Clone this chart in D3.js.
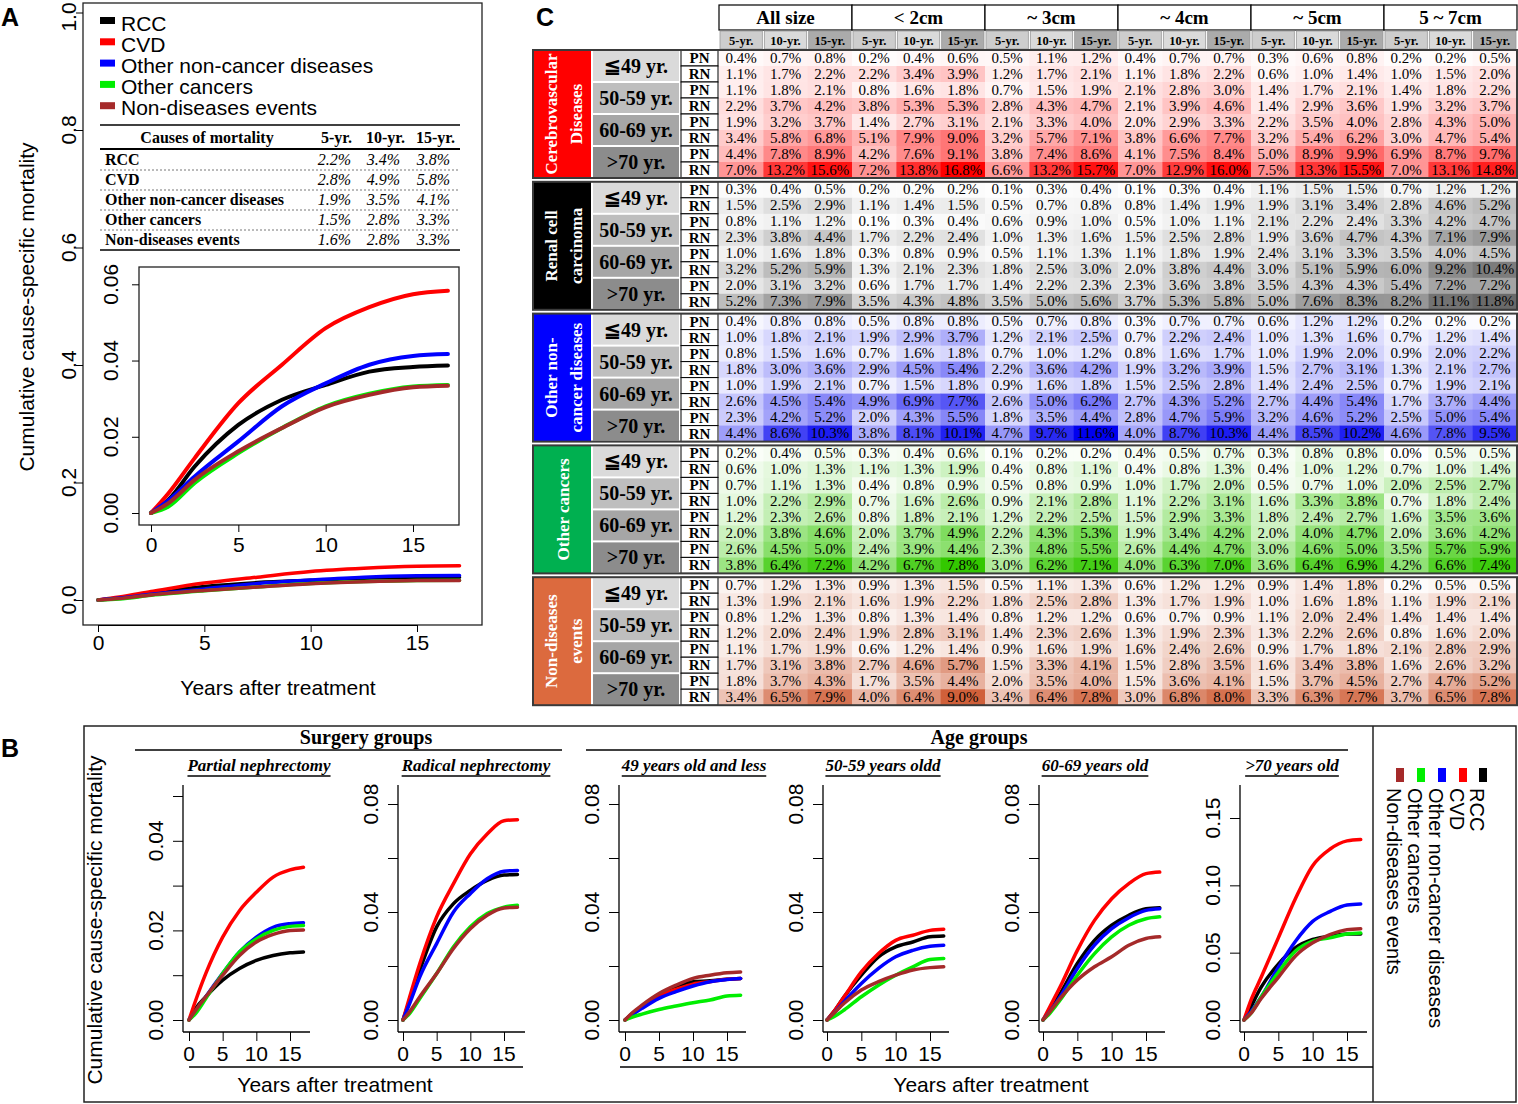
<!DOCTYPE html>
<html>
<head>
<meta charset="utf-8">
<script src="https://cdn.jsdelivr.net/npm/d3@7"></script>
<style>body{margin:0;background:#fff}</style>
</head>
<body>
<svg id="fig" width="1518" height="1104"></svg>
<script>
// ---------- data ----------
var causes = ["RCC", "CVD", "Other non-cancer diseases", "Other cancers", "Non-diseases events"];
var years = [0, 1, 2.5, 5, 7.5, 10, 12.5, 15, 17];
var xTicks = [0, 5, 10, 15];

// Panel A, all patients
var aRCC = [0, 0.0035, 0.0122, 0.0231, 0.0297, 0.0336, 0.0371, 0.0383, 0.0387];
var aCVD = [0, 0.0052, 0.0144, 0.0288, 0.0389, 0.0485, 0.054, 0.0574, 0.0583];
var aONC = [0, 0.0033, 0.0096, 0.0188, 0.028, 0.034, 0.0389, 0.0412, 0.0417];
var aOC  = [0, 0.0017, 0.0079, 0.0157, 0.0223, 0.028, 0.0313, 0.0332, 0.0336];
var aND  = [0, 0.0026, 0.0087, 0.0162, 0.0223, 0.0278, 0.031, 0.033, 0.0334];
var aMainTicks = [0, 0.2, 0.4, 0.6, 0.8, 1.0];
var aInsetTicks = [0, 0.02, 0.04, 0.06];

// Panel A table
var tableHead = ["Causes of mortality", "5-yr.", "10-yr.", "15-yr."];
var table5 = [2.2, 2.8, 1.9, 1.5, 1.6];
var table10 = [3.4, 4.9, 3.5, 2.8, 2.8];
var table15 = [3.8, 5.8, 4.1, 3.3, 3.3];

// Panel B, one array per sub-plot, rows in the order of causes
var bTitles = ["Partial nephrectomy", "Radical nephrectomy", "49 years old and less", "50-59 years oldd", "60-69 years old", ">70 years old"];
var bPartial = [
  [0, 0.0026, 0.0052, 0.0089, 0.0115, 0.0133, 0.0144, 0.015, 0.0152],
  [0, 0.0044, 0.0104, 0.0185, 0.0244, 0.0285, 0.0319, 0.0335, 0.0341],
  [0, 0.0019, 0.0052, 0.0104, 0.0152, 0.0185, 0.0207, 0.0215, 0.0217],
  [0, 0.0015, 0.0048, 0.0104, 0.0152, 0.0181, 0.02, 0.0209, 0.0211],
  [0, 0.0022, 0.0052, 0.01, 0.0144, 0.0174, 0.0191, 0.02, 0.0201]
];
var bRadical = [
  [0, 0.0074, 0.0185, 0.0345, 0.0431, 0.048, 0.0517, 0.0537, 0.0539],
  [0, 0.0086, 0.0209, 0.0382, 0.0505, 0.0615, 0.0689, 0.0738, 0.0742],
  [0, 0.0062, 0.016, 0.0283, 0.04, 0.0468, 0.0523, 0.0551, 0.0554],
  [0, 0.0025, 0.008, 0.0172, 0.0271, 0.0345, 0.0394, 0.0418, 0.0425],
  [0, 0.0031, 0.0086, 0.0172, 0.0265, 0.0338, 0.0388, 0.0415, 0.0418]
];
var bAge49 = [
  [0, 0.0022, 0.0049, 0.0092, 0.0123, 0.0142, 0.0145, 0.0151, 0.0154],
  [0, 0.0022, 0.0049, 0.009, 0.0113, 0.0133, 0.0142, 0.0151, 0.0154],
  [0, 0.0018, 0.0043, 0.008, 0.0105, 0.0126, 0.0142, 0.015, 0.0154],
  [0, 0.001, 0.0022, 0.0039, 0.0052, 0.0064, 0.0074, 0.0089, 0.0092],
  [0, 0.0025, 0.0055, 0.0098, 0.0129, 0.0154, 0.0166, 0.0175, 0.0178]
];
var bAge50 = [
  [0, 0.0031, 0.0086, 0.0166, 0.0234, 0.0271, 0.0289, 0.0308, 0.0311],
  [0, 0.0031, 0.0086, 0.0178, 0.0246, 0.0295, 0.0314, 0.0332, 0.0336],
  [0, 0.0025, 0.0068, 0.0135, 0.0191, 0.0234, 0.0258, 0.0273, 0.0277],
  [0, 0.0012, 0.0037, 0.0086, 0.0129, 0.0166, 0.0197, 0.0224, 0.0228],
  [0, 0.0025, 0.0062, 0.0111, 0.0142, 0.0166, 0.0185, 0.0194, 0.0197]
];
var bAge60 = [
  [0, 0.0037, 0.0098, 0.0209, 0.0295, 0.0351, 0.0388, 0.0412, 0.0416],
  [0, 0.0049, 0.0123, 0.0258, 0.0369, 0.0449, 0.0505, 0.0542, 0.0548],
  [0, 0.0031, 0.0086, 0.0191, 0.0277, 0.0338, 0.0379, 0.0406, 0.0412],
  [0, 0.0025, 0.0074, 0.0166, 0.0246, 0.0308, 0.0351, 0.0375, 0.0382],
  [0, 0.0031, 0.008, 0.0148, 0.0197, 0.0234, 0.0277, 0.0302, 0.0308]
];
var bAge70 = [
  [0, 0.0098, 0.0244, 0.0415, 0.0537, 0.0598, 0.0622, 0.0639, 0.0639],
  [0, 0.0146, 0.0317, 0.061, 0.0902, 0.1146, 0.1268, 0.133, 0.134],
  [0, 0.0061, 0.0171, 0.039, 0.0585, 0.0732, 0.0805, 0.0854, 0.0861],
  [0, 0.0049, 0.0171, 0.0354, 0.0512, 0.0585, 0.061, 0.0639, 0.0646],
  [0, 0.0049, 0.0159, 0.0317, 0.0476, 0.0573, 0.0634, 0.0671, 0.0678]
];
var bYMax = [0.05, 0.08, 0.08, 0.08, 0.08, 0.15];
var bYStep = [0.01, 0.02, 0.02, 0.02, 0.02, 0.05];

// Panel C
var cSizes = ["All size", "< 2cm", "~ 3cm", "~ 4cm", "~ 5cm", "5 ~ 7cm"];
var cHorizons = ["5-yr.", "10-yr.", "15-yr."];
var cAges = ["\u226649 yr.", "50-59 yr.", "60-69 yr.", ">70 yr."];
var cSurgery = ["PN", "RN"];
var cCauseLabels = [["Cerebrovascular", "Diseases"], ["Renal cell", "carcinoma"], ["Other non-", "cancer diseases"], ["Other cancers"], ["Non-diseases", "events"]];
var cCVD = [
  [0.4,0.7,0.8, 0.2,0.4,0.6, 0.5,1.1,1.2, 0.4,0.7,0.7, 0.3,0.6,0.8, 0.2,0.2,0.5],
  [1.1,1.7,2.2, 2.2,3.4,3.9, 1.2,1.7,2.1, 1.1,1.8,2.2, 0.6,1.0,1.4, 1.0,1.5,2.0],
  [1.1,1.8,2.1, 0.8,1.6,1.8, 0.7,1.5,1.9, 2.1,2.8,3.0, 1.4,1.7,2.1, 1.4,1.8,2.2],
  [2.2,3.7,4.2, 3.8,5.3,5.3, 2.8,4.3,4.7, 2.1,3.9,4.6, 1.4,2.9,3.6, 1.9,3.2,3.7],
  [1.9,3.2,3.7, 1.4,2.7,3.1, 2.1,3.3,4.0, 2.0,2.9,3.3, 2.2,3.5,4.0, 2.8,4.3,5.0],
  [3.4,5.8,6.8, 5.1,7.9,9.0, 3.2,5.7,7.1, 3.8,6.6,7.7, 3.2,5.4,6.2, 3.0,4.7,5.4],
  [4.4,7.8,8.9, 4.2,7.6,9.1, 3.8,7.4,8.6, 4.1,7.5,8.4, 5.0,8.9,9.9, 6.9,8.7,9.7],
  [7.0,13.2,15.6, 7.2,13.8,16.8, 6.6,13.2,15.7, 7.0,12.9,16.0, 7.5,13.3,15.5, 7.0,13.1,14.8]
];
var cRCC = [
  [0.3,0.4,0.5, 0.2,0.2,0.2, 0.1,0.3,0.4, 0.1,0.3,0.4, 1.1,1.5,1.5, 0.7,1.2,1.2],
  [1.5,2.5,2.9, 1.1,1.4,1.5, 0.5,0.7,0.8, 0.8,1.4,1.9, 1.9,3.1,3.4, 2.8,4.6,5.2],
  [0.8,1.1,1.2, 0.1,0.3,0.4, 0.6,0.9,1.0, 0.5,1.0,1.1, 2.1,2.2,2.4, 3.3,4.2,4.7],
  [2.3,3.8,4.4, 1.7,2.2,2.4, 1.0,1.3,1.6, 1.5,2.5,2.8, 1.9,3.6,4.7, 4.3,7.1,7.9],
  [1.0,1.6,1.8, 0.3,0.8,0.9, 0.5,1.1,1.3, 1.1,1.8,1.9, 2.4,3.1,3.3, 3.5,4.0,4.5],
  [3.2,5.2,5.9, 1.3,2.1,2.3, 1.8,2.5,3.0, 2.0,3.8,4.4, 3.0,5.1,5.9, 6.0,9.2,10.4],
  [2.0,3.1,3.2, 0.6,1.7,1.7, 1.4,2.2,2.3, 2.3,3.6,3.8, 3.5,4.3,4.3, 5.4,7.2,7.2],
  [5.2,7.3,7.9, 3.5,4.3,4.8, 3.5,5.0,5.6, 3.7,5.3,5.8, 5.0,7.6,8.3, 8.2,11.1,11.8]
];
var cONC = [
  [0.4,0.8,0.8, 0.5,0.8,0.8, 0.5,0.7,0.8, 0.3,0.7,0.7, 0.6,1.2,1.2, 0.2,0.2,0.2],
  [1.0,1.8,2.1, 1.9,2.9,3.7, 1.2,2.1,2.5, 0.7,2.2,2.4, 1.0,1.3,1.6, 0.7,1.2,1.4],
  [0.8,1.5,1.6, 0.7,1.6,1.8, 0.7,1.0,1.2, 0.8,1.6,1.7, 1.0,1.9,2.0, 0.9,2.0,2.2],
  [1.8,3.0,3.6, 2.9,4.5,5.4, 2.2,3.6,4.2, 1.9,3.2,3.9, 1.5,2.7,3.1, 1.3,2.1,2.7],
  [1.0,1.9,2.1, 0.7,1.5,1.8, 0.9,1.6,1.8, 1.5,2.5,2.8, 1.4,2.4,2.5, 0.7,1.9,2.1],
  [2.6,4.5,5.4, 4.9,6.9,7.7, 2.6,5.0,6.2, 2.7,4.3,5.2, 2.7,4.4,5.4, 1.7,3.7,4.4],
  [2.3,4.2,5.2, 2.0,4.3,5.5, 1.8,3.5,4.4, 2.8,4.7,5.9, 3.2,4.6,5.2, 2.5,5.0,5.4],
  [4.4,8.6,10.3, 3.8,8.1,10.1, 4.7,9.7,11.6, 4.0,8.7,10.3, 4.4,8.5,10.2, 4.6,7.8,9.5]
];
var cOC = [
  [0.2,0.4,0.5, 0.3,0.4,0.6, 0.1,0.2,0.2, 0.4,0.5,0.7, 0.3,0.8,0.8, 0.0,0.5,0.5],
  [0.6,1.0,1.3, 1.1,1.3,1.9, 0.4,0.8,1.1, 0.4,0.8,1.3, 0.4,1.0,1.2, 0.7,1.0,1.4],
  [0.7,1.1,1.3, 0.4,0.8,0.9, 0.5,0.8,0.9, 1.0,1.7,2.0, 0.5,0.7,1.0, 2.0,2.5,2.7],
  [1.0,2.2,2.9, 0.7,1.6,2.6, 0.9,2.1,2.8, 1.1,2.2,3.1, 1.6,3.3,3.8, 0.7,1.8,2.4],
  [1.2,2.3,2.6, 0.8,1.8,2.1, 1.2,2.2,2.5, 1.5,2.9,3.3, 1.8,2.4,2.7, 1.6,3.5,3.6],
  [2.0,3.8,4.6, 2.0,3.7,4.9, 2.2,4.3,5.3, 1.9,3.4,4.2, 2.0,4.0,4.7, 2.0,3.6,4.2],
  [2.6,4.5,5.0, 2.4,3.9,4.4, 2.3,4.8,5.5, 2.6,4.4,4.7, 3.0,4.6,5.0, 3.5,5.7,5.9],
  [3.8,6.4,7.2, 4.2,6.7,7.8, 3.0,6.2,7.1, 4.0,6.3,7.0, 3.6,6.4,6.9, 4.2,6.6,7.4]
];
var cND = [
  [0.7,1.2,1.3, 0.9,1.3,1.5, 0.5,1.1,1.3, 0.6,1.2,1.2, 0.9,1.4,1.8, 0.2,0.5,0.5],
  [1.3,1.9,2.1, 1.6,1.9,2.2, 1.8,2.5,2.8, 1.3,1.7,1.9, 1.0,1.6,1.8, 1.1,1.9,2.1],
  [0.8,1.2,1.3, 0.8,1.3,1.4, 0.8,1.2,1.2, 0.6,0.7,0.9, 1.1,2.0,2.4, 1.4,1.4,1.4],
  [1.2,2.0,2.4, 1.9,2.8,3.1, 1.4,2.3,2.6, 1.3,1.9,2.3, 1.3,2.2,2.6, 0.8,1.6,2.0],
  [1.1,1.7,1.9, 0.6,1.2,1.4, 0.9,1.6,1.9, 1.6,2.4,2.6, 0.9,1.7,1.8, 2.1,2.8,2.9],
  [1.7,3.1,3.8, 2.7,4.6,5.7, 1.5,3.3,4.1, 1.5,2.8,3.5, 1.6,3.4,3.8, 1.6,2.6,3.2],
  [1.8,3.7,4.3, 1.7,3.5,4.4, 2.0,3.5,4.0, 1.5,3.6,4.1, 1.5,3.7,4.5, 2.7,4.7,5.2],
  [3.4,6.5,7.9, 4.0,6.4,9.0, 3.4,6.4,7.8, 3.0,6.8,8.0, 3.3,6.3,7.7, 3.7,6.5,7.8]
];

// ---------- styles ----------
var SANS = "'Liberation Sans', Arial, Helvetica, sans-serif";
var SERIF = "'Liberation Serif', 'Times New Roman', Times, serif";
var lineColors = ["#000000", "#ff0000", "#0000ff", "#00ee00", "#a52a2a"];

var svg = d3.select("#fig");
svg.append("rect").attr("width", 1518).attr("height", 1104).attr("fill", "#fff");

function label(g, x, y, str, size, opt) {
  opt = opt || {};
  var t = g.append("text").attr("x", x).attr("y", y).text(str)
    .attr("font-size", size)
    .attr("font-family", opt.family || SANS)
    .attr("text-anchor", opt.anchor || "start")
    .attr("fill", opt.fill || "#000");
  if (opt.weight) t.attr("font-weight", opt.weight);
  if (opt.style) t.attr("font-style", opt.style);
  if (opt.rotate) t.attr("transform", "rotate(" + opt.rotate + "," + x + "," + y + ")");
  return t;
}

function hline(g, x1, x2, y, w, dash) {
  var l = g.append("line").attr("x1", x1).attr("x2", x2).attr("y1", y).attr("y2", y)
    .attr("stroke", dash ? "#777" : "#000").attr("stroke-width", w);
  if (dash) l.attr("stroke-dasharray", dash);
  return l;
}

function drawCurves(g, series, x, y, width) {
  var line = d3.line()
    .x(function (d, i) { return x(years[i]); })
    .y(function (d) { return y(d); })
    .curve(d3.curveMonotoneX);
  series.forEach(function (s, k) {
    g.append("path").datum(s)
      .attr("fill", "none")
      .attr("stroke", lineColors[k])
      .attr("stroke-width", width)
      .attr("stroke-linecap", "round")
      .attr("stroke-linejoin", "round")
      .attr("d", line);
  });
}

// ---------- panel A ----------
var gA = svg.append("g");
label(gA, 1, 26, "A", 25, {weight: "bold"});

var xA = d3.scaleLinear().domain([0, 15]).range([98, 417]);
var yA = d3.scaleLinear().domain([0, 1]).range([600, 12.5]);
gA.append("rect").attr("x", 83).attr("y", 3).attr("width", 399).attr("height", 622)
  .attr("fill", "none").attr("stroke", "#222").attr("stroke-width", 1.3);

gA.append("g").attr("transform", "translate(83,0)")
  .call(d3.axisLeft(yA).tickValues(aMainTicks).tickSize(7).tickFormat(""))
  .call(function (g) { g.select(".domain").remove(); });
aMainTicks.forEach(function (v) {
  // the top label sits against the page edge, keep it fully visible
  label(gA, 76, Math.max(yA(v), 17), d3.format(".1f")(v), 21, {anchor: "middle", rotate: -90});
});
gA.append("g").attr("transform", "translate(0,625)")
  .attr("font-size", 21).attr("font-family", SANS)
  .call(d3.axisBottom(xA).tickValues(xTicks).tickSize(7).tickSizeOuter(0))
  .call(function (g) { g.selectAll("text").attr("font-size", 21).attr("font-family", SANS); });

drawCurves(gA, [aRCC, aCVD, aONC, aOC, aND], xA, yA, 3.5);

label(gA, 278, 695, "Years after treatment", 21, {anchor: "middle"});
label(gA, 34, 307, "Cumulative cause-specific mortality", 21, {anchor: "middle", rotate: -90});

// legend
causes.forEach(function (c, i) {
  gA.append("rect").attr("x", 100).attr("y", 17 + i * 21.3).attr("width", 15).attr("height", 7)
    .attr("fill", lineColors[i]);
  label(gA, 121, 31 + i * 21, c, 21);
});

// table
hline(gA, 100, 460, 125, 1.5);
hline(gA, 100, 460, 149, 2);
hline(gA, 100, 460, 250, 1.5);
[170, 190, 210, 230].forEach(function (y) { hline(gA, 100, 460, y, 1, "2,2"); });
label(gA, 207, 143, tableHead[0], 16, {anchor: "middle", family: SERIF, weight: "bold"});
[352, 405, 455].forEach(function (x, i) {
  label(gA, x, 143, tableHead[i + 1], 16, {anchor: "end", family: SERIF, weight: "bold"});
});
causes.forEach(function (c, i) {
  var y = 165 + i * 20;
  label(gA, 105, y, c, 16, {family: SERIF, weight: "bold"});
  [table5, table10, table15].forEach(function (col, j) {
    label(gA, [351, 400, 450][j], y, col[i].toFixed(1) + "%", 16, {anchor: "end", family: SERIF, style: "italic"});
  });
});

// inset
var xI = d3.scaleLinear().domain([0, 15]).range([151, 413]);
var yI = d3.scaleLinear().domain([0, 0.06]).range([513, 284.3]);
gA.append("rect").attr("x", 139).attr("y", 267).attr("width", 320).attr("height", 258)
  .attr("fill", "#fff").attr("stroke", "#222").attr("stroke-width", 1.3);
gA.append("g").attr("transform", "translate(139,0)")
  .call(d3.axisLeft(yI).tickValues(aInsetTicks).tickSize(7).tickFormat(""))
  .call(function (g) { g.select(".domain").remove(); });
aInsetTicks.forEach(function (v) {
  label(gA, 118, yI(v), d3.format(".2f")(v), 21, {anchor: "middle", rotate: -90});
});
gA.append("g").attr("transform", "translate(0,525)")
  .call(d3.axisBottom(xI).tickValues(xTicks).tickSize(7).tickSizeOuter(0))
  .call(function (g) {
    g.select(".domain").remove();
    g.selectAll("text").attr("font-size", 21).attr("font-family", SANS).attr("y", 12);
  });
drawCurves(gA, [aRCC, aCVD, aONC, aOC, aND], xI, yI, 4);

// ---------- panel B ----------
var gB = svg.append("g");
label(gB, 1, 757, "B", 25, {weight: "bold"});
gB.append("rect").attr("x", 84).attr("y", 726).attr("width", 1432).attr("height", 376)
  .attr("fill", "none").attr("stroke", "#222").attr("stroke-width", 1.5);
gB.append("line").attr("x1", 1373).attr("x2", 1373).attr("y1", 726).attr("y2", 1102)
  .attr("stroke", "#222").attr("stroke-width", 1.5);

label(gB, 366, 744, "Surgery groups", 20, {anchor: "middle", family: SERIF, weight: "bold"});
hline(gB, 135, 562, 750, 1.3);
label(gB, 979, 744, "Age groups", 20, {anchor: "middle", family: SERIF, weight: "bold"});
hline(gB, 586, 1348, 750, 1.3);

var bAxisX = [183, 398, 619, 823, 1039, 1240];
var bX0 = [189, 403, 625, 827, 1043, 1244];
var bX15 = [290, 504, 727, 930, 1146, 1347];
var bRight = [310, 525, 746, 949, 1165, 1367];
var bTopY = [796, 804, 804, 804, 804, 818];
var bSubX = [259, 476, 694, 883, 1095, 1292];
var bSeries = [bPartial, bRadical, bAge49, bAge50, bAge60, bAge70];

bSeries.forEach(function (series, i) {
  var g = gB.append("g");
  var x = d3.scaleLinear().domain([0, 15]).range([bX0[i], bX15[i]]);
  var y = d3.scaleLinear().domain([0, bYMax[i]]).range([1020, bTopY[i]]);
  var ticks = d3.range(0, bYMax[i] + bYStep[i] / 2, bYStep[i]);

  // subtitle, underlined
  var t = label(g, bSubX[i], 771, bTitles[i], 17, {anchor: "middle", family: SERIF, weight: "bold", style: "italic"});
  var w = t.node().getComputedTextLength();
  hline(g, bSubX[i] - w / 2, bSubX[i] + w / 2, 776, 1.3);

  // axes (L-shaped frame)
  g.append("line").attr("x1", bAxisX[i]).attr("x2", bAxisX[i]).attr("y1", 785).attr("y2", 1032)
    .attr("stroke", "#000").attr("stroke-width", 1.3);
  hline(g, bAxisX[i], bRight[i], 1032, 1.3);
  g.append("g").attr("transform", "translate(" + bAxisX[i] + ",0)")
    .call(d3.axisLeft(y).tickValues(ticks).tickSize(10).tickFormat(""))
    .call(function (a) { a.select(".domain").remove(); });
  ticks.forEach(function (v, k) {
    var every = bYStep[i] < 0.05 ? 2 : 1;
    if (k % every === 0) label(g, bAxisX[i] - 20, y(v), d3.format(".2f")(v), 21, {anchor: "middle", rotate: -90});
  });
  g.append("g").attr("transform", "translate(0,1032)")
    .call(d3.axisBottom(x).tickValues(xTicks).tickSize(9).tickFormat(""))
    .call(function (a) { a.select(".domain").remove(); });
  xTicks.forEach(function (v) { label(g, x(v), 1061, String(v), 21, {anchor: "middle"}); });

  drawCurves(g, series, x, y, 3.5);
});

hline(gB, 189, 523, 1067, 1.3);
hline(gB, 620, 1373, 1067, 1.3);
label(gB, 335, 1092, "Years after treatment", 21, {anchor: "middle"});
label(gB, 991, 1092, "Years after treatment", 21, {anchor: "middle"});
label(gB, 102, 920, "Cumulative cause-specific mortality", 21, {anchor: "middle", rotate: -90});

// rotated legend
var legX = [1470, 1450, 1429, 1408, 1387];
causes.forEach(function (c, i) {
  gB.append("rect").attr("x", legX[i] + 9).attr("y", 768).attr("width", 8).attr("height", 14)
    .attr("fill", lineColors[i]);
  label(gB, legX[i], 788, c, 20, {rotate: 90});
});

// ---------- panel C ----------
var gC = svg.append("g");
label(gC, 536, 26, "C", 25, {weight: "bold"});

var colW = 798 / 18;
var col0 = 719;
var subFill = ["#cdcdcd", "#dadada", "#ababab"];
cSizes.forEach(function (s, j) {
  var x0 = col0 + j * colW * 3;
  gC.append("rect").attr("x", x0).attr("y", 5).attr("width", colW * 3).attr("height", 25)
    .attr("fill", "#fff").attr("stroke", "#000").attr("stroke-width", 1.2);
  label(gC, x0 + colW * 1.5, 24, s, 19, {anchor: "middle", family: SERIF, weight: "bold"});
  cHorizons.forEach(function (h, k) {
    var x = x0 + k * colW;
    gC.append("rect").attr("x", x + 1).attr("y", 31).attr("width", colW - 2).attr("height", 18)
      .attr("fill", subFill[k]).attr("stroke", "#999").attr("stroke-width", 0.8);
    label(gC, x + colW / 2, 45, h, 12.5, {anchor: "middle", family: SERIF, weight: "bold"});
  });
});

var blocks = [cCVD, cRCC, cONC, cOC, cND];
var causeFill = ["#ff0000", "#000000", "#0000ff", "#00b050", "#dc6a3e"];
var heatEnd = ["#ff0000", "#6a6a6a", "#0000f0", "#33c800", "#d0603a"];
var ageFill = ["#dadada", "#bebebe", "#a6a6a6", "#8c8c8c"];
var rowH = 16;
var blockStep = 131.8;

blocks.forEach(function (rows, b) {
  var top = 50 + b * blockStep;
  var g = gC.append("g");
  var vmax = d3.max(rows, function (r) { return d3.max(r); });
  var color = d3.scaleLinear().domain([0, vmax]).range(["#ffffff", heatEnd[b]]).interpolate(d3.interpolateRgb);

  // cause column
  g.append("rect").attr("x", 533).attr("y", top).attr("width", 58).attr("height", rowH * 8)
    .attr("fill", causeFill[b]);
  var lines = cCauseLabels[b];
  var cy = top + rowH * 4;
  var bx = lines.length === 1 ? [569] : [557, 582];
  lines.forEach(function (ln, k) {
    label(g, bx[k], cy, ln, 17, {anchor: "middle", family: SERIF, weight: "bold", fill: "#fff", rotate: -90});
  });

  // age column
  cAges.forEach(function (a, k) {
    var y = top + k * rowH * 2;
    g.append("rect").attr("x", 593).attr("y", y + 1).attr("width", 86).attr("height", rowH * 2 - 2)
      .attr("fill", ageFill[k]);
    label(g, 636, y + rowH + 7, a, 20, {anchor: "middle", family: SERIF, weight: "bold"});
  });

  // rows
  rows.forEach(function (r, i) {
    var y = top + i * rowH;
    g.append("rect").attr("x", 681).attr("y", y).attr("width", 37).attr("height", rowH)
      .attr("fill", "#fff").attr("stroke", "#000").attr("stroke-width", 1);
    label(g, 699.5, y + 13, cSurgery[i % 2], 15, {anchor: "middle", family: SERIF, weight: "bold"});
    r.forEach(function (v, j) {
      var x = col0 + j * colW;
      g.append("rect").attr("x", x).attr("y", y).attr("width", colW + 0.4).attr("height", rowH + 0.4)
        .attr("fill", color(v));
      label(g, x + colW / 2, y + 12.5, v.toFixed(1) + "%", 15, {anchor: "middle", family: SERIF});
    });
  });

  g.append("rect").attr("x", 533).attr("y", top).attr("width", 984).attr("height", rowH * 8)
    .attr("fill", "none").attr("stroke", "#3a3a3a").attr("stroke-width", 2);
});
</script>
</body>
</html>
